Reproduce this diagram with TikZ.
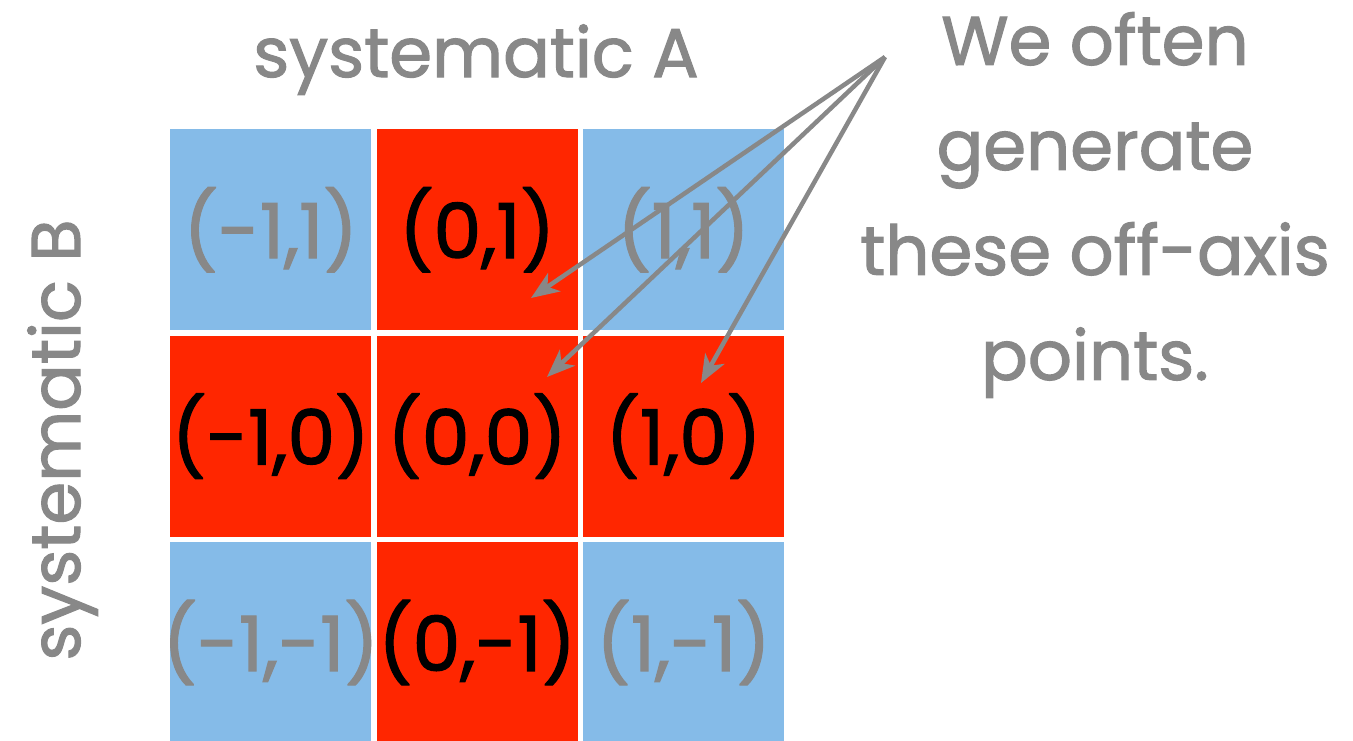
\documentclass[tikz,border=0pt]{standalone}
\usepackage{fontspec}
\setmainfont{Poppins}[FakeBold=1.6]
\usetikzlibrary{arrows.meta, positioning}

\definecolor{offblue}{HTML}{85BBE8}
\definecolor{onred}{HTML}{FF2600}
\definecolor{txtgray}{HTML}{888888}

% keep wide labels from stretching the cells
\newcommand{\shiftpt}[1]{\makebox[0pt]{#1}}

\begin{document}
\begin{tikzpicture}[
        x=1pt, y=-1pt,
        node distance=5pt and 5pt,
        cell/.style={rectangle, minimum width=201pt, minimum height=201pt, inner sep=0pt, font=\fontsize{76}{80}\selectfont},
        oncell/.style={cell, fill=onred, text=black},
        offcell/.style={cell, fill=offblue, text=txtgray},
        axislabel/.style={text=txtgray, font=\fontsize{69}{72}\selectfont, inner sep=0pt},
        note/.style={text=txtgray, align=center, font=\fontsize{69}{105}\selectfont, inner sep=0pt},
        pointer/.style={-{Stealth[length=28pt, width=22pt, inset=8pt]}, line width=4.5pt, draw=txtgray}
    ]

    \useasboundingbox (0,0) rectangle (1353,740);

    % grid of shifted points
    \node[offcell, anchor=north west] (mp) at (170,129) {\shiftpt{(-1,1)}};
    \node[oncell, right=of mp] (zp) {\shiftpt{(0,1)}};
    \node[offcell, right=of zp] (pp) {\shiftpt{(1,1)}};

    \node[oncell, below=of mp] (mz) {\shiftpt{(-1,0)}};
    \node[oncell, right=of mz] (zz) {\shiftpt{(0,0)}};
    \node[oncell, right=of zz] (pz) {\shiftpt{(1,0)}};

    \node[offcell, below=of mz] (mm) {\shiftpt{(-1,-1)}};
    \node[oncell, right=of mm] (zm) {\shiftpt{(0,-1)}};
    \node[offcell, right=of zm] (pm) {\shiftpt{(1,-1)}};

    % axis labels
    \node[axislabel, anchor=base] (sysA) at (476,77) {systematic A};
    \node[axislabel, rotate=90, anchor=base] (sysB) at (80,440) {systematic B};

    % note with pointers
    \node[note] (offaxis) at (1095,205) {We often\\generate\\these off-axis\\points.};
    \coordinate (src) at (885,57);
    \coordinate (tipzp) at (531,298);
    \coordinate (tipzz) at (547,377);
    \coordinate (tippz) at (701,383);

    \draw[pointer] (src) -- (tipzp);
    \draw[pointer] (src) -- (tipzz);
    \draw[pointer] (src) -- (tippz);

\end{tikzpicture}
\end{document}
